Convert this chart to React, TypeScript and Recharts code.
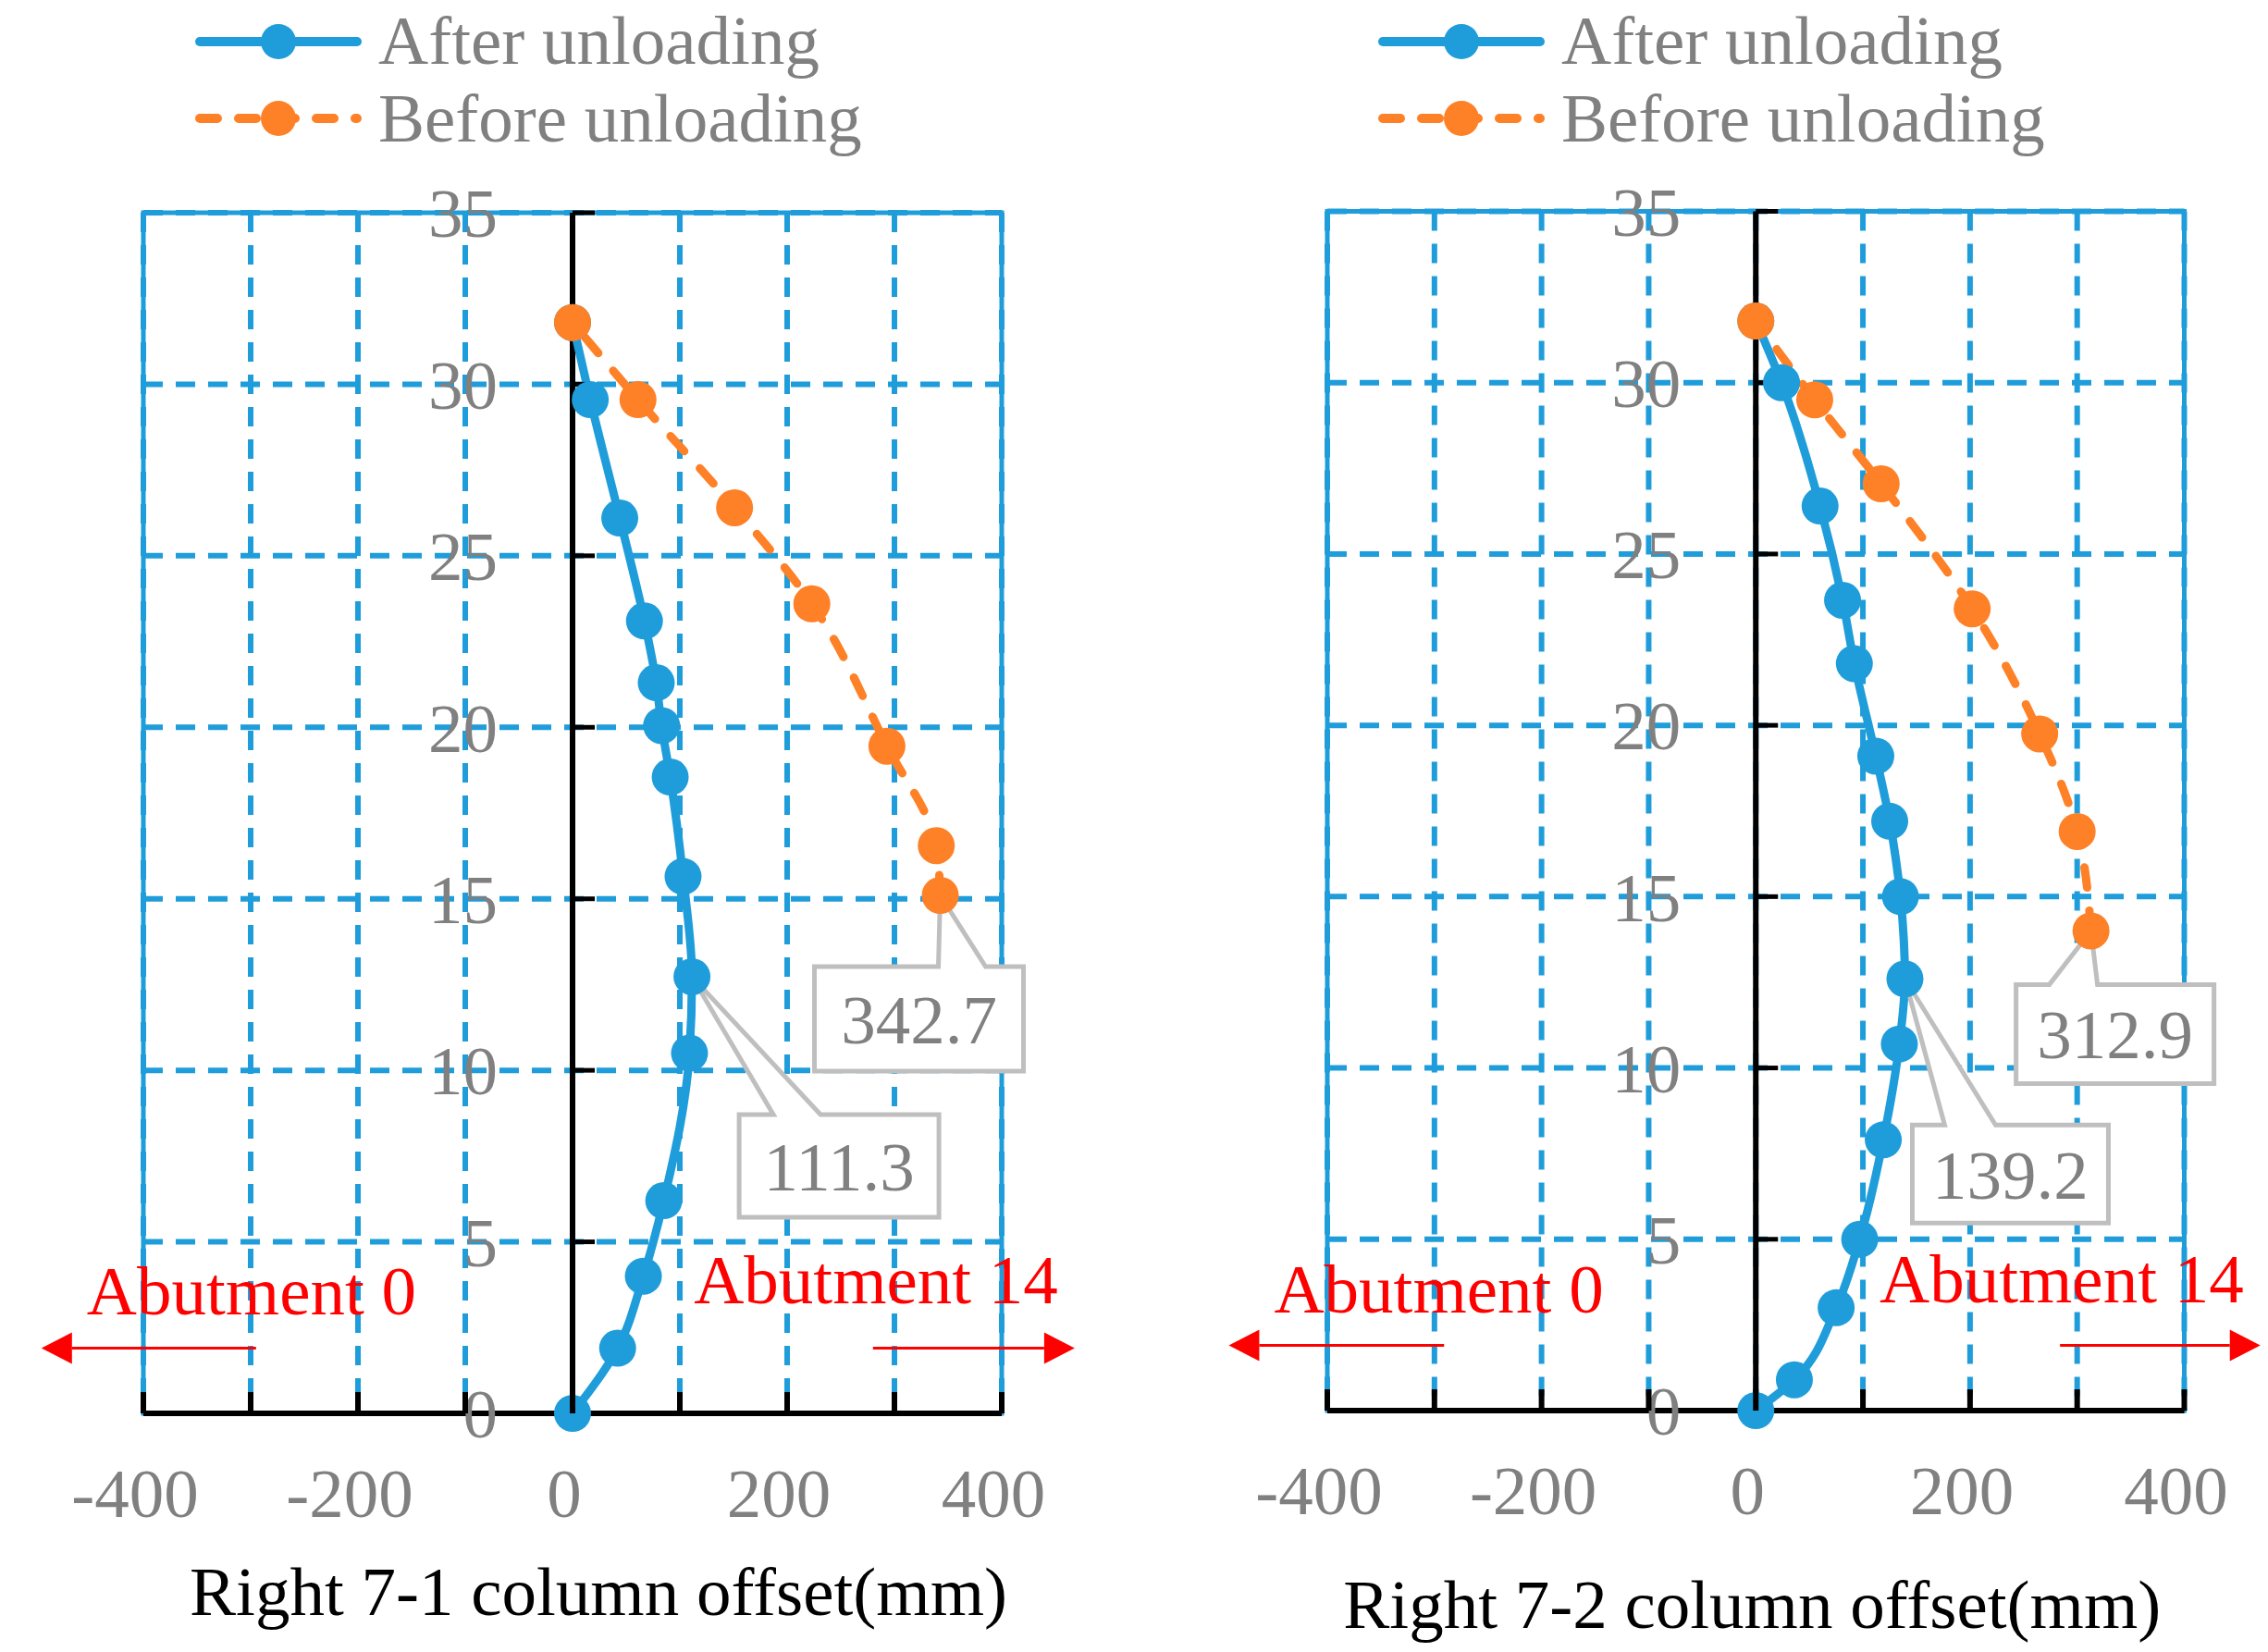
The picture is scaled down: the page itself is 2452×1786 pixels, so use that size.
import React from "react";
import {
  LineChart,
  Line,
  XAxis,
  YAxis,
  CartesianGrid,
  ReferenceArea,
  ReferenceLine,
  ReferenceDot,
  Legend,
} from "recharts";

const FONT = '"Liberation Serif", "Times New Roman", serif';
const BLUE = "#1f9dda";
const ORANGE = "#fe8027";
const GRAY = "#808080";
const BOX_LINE = "#bfbfbf";
const RED = "#ff0000";
const FS = 75;

const HEIGHT_TICKS = [0, 5, 10, 15, 20, 25, 30, 35];
const OFFSET_TICKS = [-400, -300, -200, -100, 0, 100, 200, 300, 400];
const OFFSET_LABELS = ["-400", "", "-200", "", "0", "", "200", "", "400"];
const SERIES_NAMES = ["After unloading", "Before unloading"];
const ABUTMENTS = ["Abutment 0", "Abutment 14"];
const ARROW_HEIGHT = 1.9;

// right 7-1 column
const AFTER_71_HEIGHT = [0, 1.9, 4.0, 6.2, 10.5, 12.73, 15.65, 18.55, 20.05, 21.3, 23.1, 26.1, 29.55, 31.8];
const AFTER_71_OFFSET = [0, 42, 66, 85, 109, 111.3, 103, 91, 83, 78, 67, 44, 16.5, 0];
const BEFORE_71_HEIGHT = [15.1, 16.55, 19.45, 23.6, 26.4, 29.55, 31.8];
const BEFORE_71_OFFSET = [342.7, 339, 293, 223, 151, 61, 0];

// right 7-2 column
const AFTER_72_HEIGHT = [0, 0.9, 3.0, 5.0, 7.9, 10.7, 12.6, 15.0, 17.2, 19.1, 21.8, 23.65, 26.4, 30.0, 31.8];
const AFTER_72_OFFSET = [0, 36, 75, 97, 119, 134, 139.2, 135, 125, 112, 92, 81, 60, 24, 0];
const BEFORE_72_HEIGHT = [14.0, 16.9, 19.75, 23.4, 27.05, 29.5, 31.8];
const BEFORE_72_OFFSET = [312.9, 300, 265, 202, 117, 55, 0];

const toRows = (h: number[], x: number[]) => h.map((v, i) => ({ h: v, x: x[i] }));
const peak = (h: number[], x: number[]) => {
  const i = x.indexOf(Math.max(...x));
  return { h: h[i], x: x[i] };
};

type Box = { dx: number; dy: number; w: number; h: number; wa: number; wb: number };

function Callout({ cx, cy, text, box }: any) {
  const b: Box = box;
  const bx = cx + b.dx;
  const by = cy + b.dy;
  const d = `M${bx},${by} L${cx + b.wa},${by} L${cx},${cy} L${cx + b.wb},${by} L${bx + b.w},${by} L${bx + b.w},${by + b.h} L${bx},${by + b.h} Z`;
  return (
    <g>
      <path d={d} fill="#fff" stroke={BOX_LINE} strokeWidth={5} strokeLinejoin="miter" />
      <text x={bx + b.w / 2} y={by + b.h / 2} dy="0.35em" textAnchor="middle" fontSize={FS} fill={GRAY} fontFamily={FONT}>
        {text}
      </text>
    </g>
  );
}

function Arrow({ x1, y1, x2, y2, text, side, textDy }: any) {
  const dir = x2 < x1 ? -1 : 1;
  const back = x2 - dir * 33;
  return (
    <g>
      <line x1={x1} y1={y1} x2={back} y2={y2} stroke={RED} strokeWidth={3} />
      <polygon points={`${x2},${y2} ${back},${y2 - 17} ${back},${y2 + 17}`} fill={RED} />
      <text
        x={side === "left" ? x2 + 49 : x2 - 18}
        y={y2 + textDy}
        textAnchor={side === "left" ? "start" : "end"}
        fontSize={FS}
        fill={RED}
        fontFamily={FONT}
      >
        {text}
      </text>
    </g>
  );
}

function LegendBox() {
  return (
    <svg width={720} height={180} style={{ display: "block" }}>
      <line x1={5} y1={45} x2={175} y2={45} stroke={BLUE} strokeWidth={10} strokeLinecap="round" />
      <circle cx={90} cy={45} r={19} fill={BLUE} />
      <text x={198} y={69} fontSize={FS} fill={GRAY} fontFamily={FONT}>
        {SERIES_NAMES[0]}
      </text>
      <line x1={5} y1={128} x2={175} y2={128} stroke={ORANGE} strokeWidth={10} strokeLinecap="round" strokeDasharray="19 23" />
      <circle cx={90} cy={128} r={19} fill={ORANGE} />
      <text x={198} y={153} fontSize={FS} fill={GRAY} fontFamily={FONT}>
        {SERIES_NAMES[1]}
      </text>
    </svg>
  );
}

interface PanelProps {
  left: number;
  margin: { top: number; right: number; bottom: number; left: number };
  title: string;
  titleDx: number;
  titleBase: number;
  legendLeft: number;
  after: { h: number[]; x: number[] };
  before: { h: number[]; x: number[] };
  afterBox: Box;
  beforeBox: Box;
  leftArrow: number[];
  rightArrow: number[];
  arrowTextDy: number[];
}

function Panel(p: PanelProps) {
  const afterRows = toRows(p.after.h, p.after.x);
  const beforeRows = toRows(p.before.h, p.before.x);
  const afterPeak = peak(p.after.h, p.after.x);
  const beforePeak = peak(p.before.h, p.before.x);

  return (
    <div style={{ position: "absolute", left: p.left, top: 0 }}>
      <LineChart width={1226} height={1786} layout="vertical" margin={p.margin} style={{ fontFamily: FONT }}>
        <CartesianGrid stroke={BLUE} strokeWidth={6} strokeDasharray="21 14" />
        <ReferenceArea x1={-400} x2={400} y1={0} y2={35} fill="none" stroke={BLUE} strokeWidth={5} ifOverflow="visible" />
        <XAxis
          type="number"
          domain={[-400, 400]}
          ticks={OFFSET_TICKS}
          interval={0}
          height={150}
          tickSize={0}
          tickMargin={0}
          tickLine={false}
          axisLine={{ stroke: "#000", strokeWidth: 6 }}
          tick={({ x, y, index }: any) => (
            <g>
              <line x1={x} y1={y} x2={x} y2={y - 23} stroke="#000" strokeWidth={6} />
              {OFFSET_LABELS[index] && (
                <text x={x - 9} y={y + 112} textAnchor="middle" fontSize={FS} fill={GRAY} fontFamily={FONT}>
                  {OFFSET_LABELS[index]}
                </text>
              )}
            </g>
          )}
          label={({ viewBox }: any) => (
            <text
              x={viewBox.x + viewBox.width / 2 + p.titleDx}
              y={viewBox.y + p.titleBase}
              textAnchor="middle"
              fontSize={FS}
              fill="#000"
              fontFamily={FONT}
            >
              {p.title}
            </text>
          )}
        />
        <YAxis
          type="number"
          dataKey="h"
          domain={[0, 35]}
          ticks={HEIGHT_TICKS}
          interval={0}
          reversed
          width={0}
          axisLine={false}
          tickLine={false}
          tick={() => <g />}
          label={({ viewBox }: any) => (
            <text
              transform={`translate(${viewBox.x - 83}, ${viewBox.y + 710}) rotate(-90)`}
              textAnchor="middle"
              fontSize={FS}
              fill={GRAY}
              fontFamily={FONT}
            >
              Pier height position(m)
            </text>
          )}
        />
        <ReferenceLine x={0} stroke="#000" strokeWidth={6} />
        {HEIGHT_TICKS.map((v) => (
          <ReferenceDot
            key={v}
            x={0}
            y={v}
            ifOverflow="visible"
            shape={({ cx, cy }: any) => (
              <g>
                <line x1={cx} y1={cy} x2={cx + 24} y2={cy} stroke="#000" strokeWidth={5} />
                <text x={cx - 81} y={cy} dy="0.35em" textAnchor="end" fontSize={FS} fill={GRAY} fontFamily={FONT}>
                  {v}
                </text>
              </g>
            )}
          />
        ))}
        <ReferenceLine
          segment={[
            { x: p.leftArrow[0], y: ARROW_HEIGHT },
            { x: p.leftArrow[1], y: ARROW_HEIGHT },
          ]}
          ifOverflow="visible"
          shape={(s: any) => <Arrow {...s} text={ABUTMENTS[0]} side="left" textDy={p.arrowTextDy[0]} />}
        />
        <ReferenceLine
          segment={[
            { x: p.rightArrow[0], y: ARROW_HEIGHT },
            { x: p.rightArrow[1], y: ARROW_HEIGHT },
          ]}
          ifOverflow="visible"
          shape={(s: any) => <Arrow {...s} text={ABUTMENTS[1]} side="right" textDy={p.arrowTextDy[1]} />}
        />
        <Line
          data={afterRows}
          dataKey="x"
          name={SERIES_NAMES[0]}
          type="monotone"
          stroke={BLUE}
          strokeWidth={9}
          dot={{ r: 20, fill: BLUE, stroke: "none" }}
          activeDot={false}
          isAnimationActive={false}
        />
        <Line
          data={beforeRows}
          dataKey="x"
          name={SERIES_NAMES[1]}
          type="monotone"
          stroke={ORANGE}
          strokeWidth={9}
          strokeDasharray="22 25"
          strokeLinecap="round"
          dot={{ r: 20, fill: ORANGE, stroke: "none" }}
          activeDot={false}
          isAnimationActive={false}
        />
        <ReferenceDot
          x={beforePeak.x}
          y={beforePeak.h}
          ifOverflow="visible"
          shape={(s: any) => <Callout cx={s.cx} cy={s.cy} text={beforePeak.x.toFixed(1)} box={p.beforeBox} />}
        />
        <ReferenceDot
          x={afterPeak.x}
          y={afterPeak.h}
          ifOverflow="visible"
          shape={(s: any) => <Callout cx={s.cx} cy={s.cy} text={afterPeak.x.toFixed(1)} box={p.afterBox} />}
        />
        <Legend
          layout="horizontal"
          verticalAlign="middle"
          align="center"
          wrapperStyle={{ top: 0, left: p.legendLeft, width: 720, height: 180 }}
          content={() => <LegendBox />}
        />
      </LineChart>
    </div>
  );
}

export default function App() {
  return (
    <div style={{ position: "absolute", left: 0, top: 0, width: 2452, height: 1786, background: "#fff" }}>
      <Panel
        left={0}
        margin={{ top: 230, right: 143, bottom: 108, left: 155 }}
        title="Right 7-1 column offset(mm)"
        titleDx={28}
        titleBase={218}
        legendLeft={211}
        after={{ h: AFTER_71_HEIGHT, x: AFTER_71_OFFSET }}
        before={{ h: BEFORE_71_HEIGHT, x: BEFORE_71_OFFSET }}
        afterBox={{ dx: 51, dy: 149, w: 216, h: 111, wa: 88, wb: 139 }}
        beforeBox={{ dx: -136, dy: 77, w: 226, h: 113, wa: -2, wb: 49 }}
        leftArrow={[-295, -495]}
        rightArrow={[280, 468]}
        arrowTextDy={[-37, -49]}
      />
      <Panel
        left={1226}
        margin={{ top: 228.5, right: 90.5, bottom: 111, left: 209 }}
        title="Right 7-2 column offset(mm)"
        titleDx={-4}
        titleBase={235}
        legendLeft={264}
        after={{ h: AFTER_72_HEIGHT, x: AFTER_72_OFFSET }}
        before={{ h: BEFORE_72_HEIGHT, x: BEFORE_72_OFFSET }}
        afterBox={{ dx: 8, dy: 158, w: 212, h: 106, wa: 43, wb: 98 }}
        beforeBox={{ dx: -81, dy: 58, w: 214, h: 107, wa: -45, wb: 7 }}
        leftArrow={[-291, -492]}
        rightArrow={[284, 471]}
        arrowTextDy={[-36, -47]}
      />
    </div>
  );
}
